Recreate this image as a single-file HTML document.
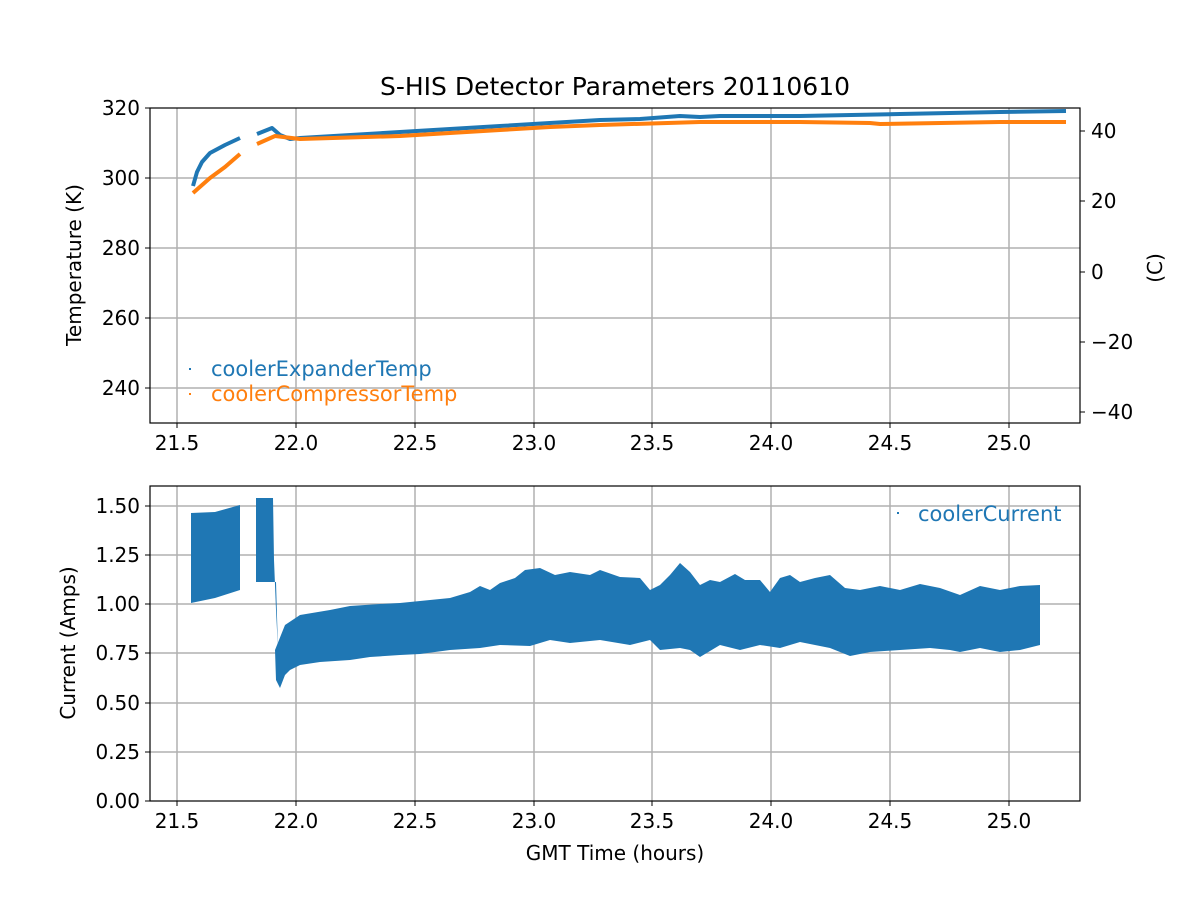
<!DOCTYPE html><html><head><style>body{margin:0;background:#fff}svg{font-family:"DejaVu Sans","Liberation Sans",sans-serif}</style></head><body>
<svg width="1200" height="900" xmlns="http://www.w3.org/2000/svg">
<rect width="1200" height="900" fill="#fff"/>
<g stroke="#b0b0b0" stroke-width="1.5">
<line x1="177" y1="108" x2="177" y2="423"/><line x1="296" y1="108" x2="296" y2="423"/><line x1="415" y1="108" x2="415" y2="423"/><line x1="534" y1="108" x2="534" y2="423"/><line x1="652" y1="108" x2="652" y2="423"/><line x1="771" y1="108" x2="771" y2="423"/><line x1="890" y1="108" x2="890" y2="423"/><line x1="1009" y1="108" x2="1009" y2="423"/>
<line x1="150" y1="178" x2="1080" y2="178"/><line x1="150" y1="248" x2="1080" y2="248"/><line x1="150" y1="318" x2="1080" y2="318"/><line x1="150" y1="388" x2="1080" y2="388"/>
<line x1="177" y1="486" x2="177" y2="801"/><line x1="296" y1="486" x2="296" y2="801"/><line x1="415" y1="486" x2="415" y2="801"/><line x1="534" y1="486" x2="534" y2="801"/><line x1="652" y1="486" x2="652" y2="801"/><line x1="771" y1="486" x2="771" y2="801"/><line x1="890" y1="486" x2="890" y2="801"/><line x1="1009" y1="486" x2="1009" y2="801"/>
<line x1="150" y1="506" x2="1080" y2="506"/><line x1="150" y1="555" x2="1080" y2="555"/><line x1="150" y1="604" x2="1080" y2="604"/><line x1="150" y1="653" x2="1080" y2="653"/><line x1="150" y1="703" x2="1080" y2="703"/><line x1="150" y1="752" x2="1080" y2="752"/>
</g>
<g fill="none" stroke-width="4" stroke-linejoin="round">
<polyline stroke="#1f77b4" points="193,186 197,172 202,162 210,153 225,145 240,138"/>
<polyline stroke="#1f77b4" points="257,134 272,128 280,135 290,139 300,138 400,132 500,126 600,120 640,119 680,116 700,117 720,116 800,116 900,114 1000,112 1066,111"/>
<polyline stroke="#ff7f0e" points="193,193 210,178 225,167 240,154"/>
<polyline stroke="#ff7f0e" points="257,144 275,136 300,139 400,136 500,130 550,127 600,125 700,122 800,122 870,123 880,124 1000,122 1066,122"/>
</g>
<g fill="#1f77b4">
<polygon points="191,513 215,512 240,505 240,590 215,598 191,603"/>
<polygon points="256,498 273,498 274,560 276,610 278,650 276,582 256,582"/>
<polygon points="275,650 285,625 300,615 330,610 350,606 380,604 400,603 430,600 450,598 470,592 480,586 490,590 500,583 515,578 525,570 540,568 555,575 570,572 590,575 600,570 620,577 640,578 650,590 660,585 670,575 680,563 690,572 700,585 710,580 720,582 735,574 745,580 760,580 770,592 780,578 790,575 800,582 815,578 830,575 845,588 860,590 880,586 900,590 920,584 940,588 960,595 980,586 1000,590 1020,586 1040,585 1040,645 1020,650 1000,652 980,648 960,652 950,650 930,648 900,650 870,652 850,656 830,648 800,642 780,648 760,645 740,650 720,645 700,657 690,650 680,648 660,650 650,640 630,645 600,640 570,643 550,640 530,646 500,645 480,648 450,650 420,654 400,655 370,657 350,660 320,662 300,665 290,670 285,675 280,688 276,680"/>
</g>
<g fill="none" stroke="#000" stroke-width="1.2">
<rect x="150" y="108" width="930" height="315"/><rect x="150" y="486" width="930" height="315"/>
</g>
<g stroke="#000" stroke-width="1">
<line x1="177" y1="423" x2="177" y2="428"/><line x1="296" y1="423" x2="296" y2="428"/><line x1="415" y1="423" x2="415" y2="428"/><line x1="534" y1="423" x2="534" y2="428"/><line x1="652" y1="423" x2="652" y2="428"/><line x1="771" y1="423" x2="771" y2="428"/><line x1="890" y1="423" x2="890" y2="428"/><line x1="1009" y1="423" x2="1009" y2="428"/>
<line x1="177" y1="801" x2="177" y2="806"/><line x1="296" y1="801" x2="296" y2="806"/><line x1="415" y1="801" x2="415" y2="806"/><line x1="534" y1="801" x2="534" y2="806"/><line x1="652" y1="801" x2="652" y2="806"/><line x1="771" y1="801" x2="771" y2="806"/><line x1="890" y1="801" x2="890" y2="806"/><line x1="1009" y1="801" x2="1009" y2="806"/>
<line x1="145" y1="108" x2="150" y2="108"/><line x1="145" y1="178" x2="150" y2="178"/><line x1="145" y1="248" x2="150" y2="248"/><line x1="145" y1="318" x2="150" y2="318"/><line x1="145" y1="388" x2="150" y2="388"/>
<line x1="1080" y1="131" x2="1085" y2="131"/><line x1="1080" y1="201" x2="1085" y2="201"/><line x1="1080" y1="272" x2="1085" y2="272"/><line x1="1080" y1="342" x2="1085" y2="342"/><line x1="1080" y1="412" x2="1085" y2="412"/>
<line x1="145" y1="506" x2="150" y2="506"/><line x1="145" y1="555" x2="150" y2="555"/><line x1="145" y1="604" x2="150" y2="604"/><line x1="145" y1="653" x2="150" y2="653"/><line x1="145" y1="703" x2="150" y2="703"/><line x1="145" y1="752" x2="150" y2="752"/><line x1="145" y1="801" x2="150" y2="801"/>
</g>
<g font-size="20" fill="#000" text-anchor="middle">
<text x="177" y="450">21.5</text><text x="296" y="450">22.0</text><text x="415" y="450">22.5</text><text x="534" y="450">23.0</text><text x="652" y="450">23.5</text><text x="771" y="450">24.0</text><text x="890" y="450">24.5</text><text x="1009" y="450">25.0</text>
<text x="177" y="828">21.5</text><text x="296" y="828">22.0</text><text x="415" y="828">22.5</text><text x="534" y="828">23.0</text><text x="652" y="828">23.5</text><text x="771" y="828">24.0</text><text x="890" y="828">24.5</text><text x="1009" y="828">25.0</text>
<text x="615" y="95" font-size="25">S-HIS Detector Parameters 20110610</text>
<text x="615" y="860">GMT Time (hours)</text>
<text transform="translate(81,265) rotate(-90)">Temperature (K)</text>
<text transform="translate(75,643) rotate(-90)">Current (Amps)</text>
<text transform="translate(1162,268) rotate(-90)">(C)</text>
</g>
<g font-size="20" fill="#000" text-anchor="end">
<text x="140" y="115">320</text><text x="140" y="185">300</text><text x="140" y="255">280</text><text x="140" y="325">260</text><text x="140" y="395">240</text>
<text x="140" y="513">1.50</text><text x="140" y="562">1.25</text><text x="140" y="611">1.00</text><text x="140" y="660">0.75</text><text x="140" y="710">0.50</text><text x="140" y="759">0.25</text><text x="140" y="808">0.00</text>
</g>
<g font-size="20" fill="#000" text-anchor="start">
<text x="1091" y="138">40</text><text x="1091" y="208">20</text><text x="1091" y="279">0</text><text x="1091" y="349">−20</text><text x="1091" y="419">−40</text>
</g>
<rect x="189" y="368" width="2" height="2" fill="#1f77b4"/><text x="211" y="376" font-size="21" fill="#1f77b4">coolerExpanderTemp</text>
<rect x="189" y="393" width="2" height="2" fill="#ff7f0e"/><text x="211" y="401" font-size="21" fill="#ff7f0e">coolerCompressorTemp</text>
<rect x="897" y="512" width="2" height="2" fill="#1f77b4"/><text x="918" y="521" font-size="21" fill="#1f77b4">coolerCurrent</text>
</svg></body></html>
